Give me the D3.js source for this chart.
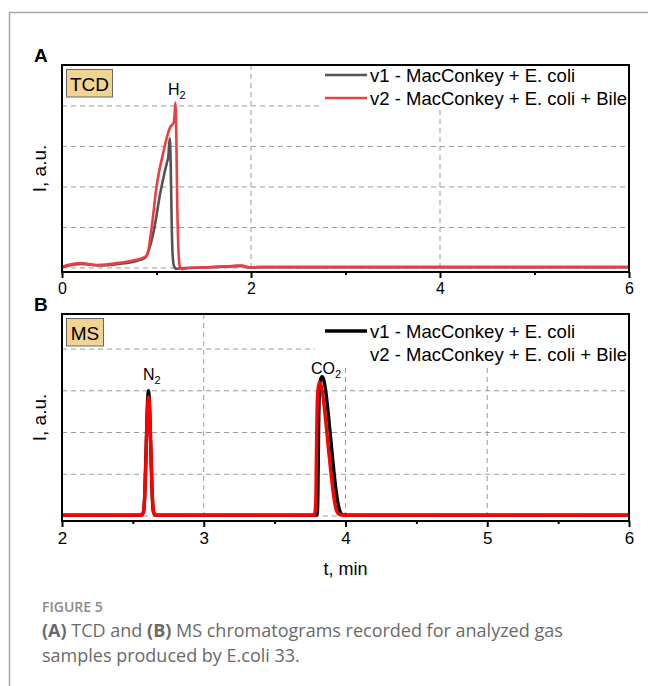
<!DOCTYPE html>
<html>
<head>
<meta charset="utf-8">
<script src="https://cdn.jsdelivr.net/npm/d3@7"></script>
<style>
  body { margin: 0; background: #fff; }
  svg { display: block; }
</style>
</head>
<body>
<div id="chart"></div>
<script>
// ---- data, time in min, intensity in a.u. ----
var tcdV1 = [[0,0.02],[0.2,0.1],[0.4,0.06],[0.6,0.1],[0.8,0.18],[0.88,0.25],[0.92,0.45],[0.97,0.9],
  [1.04,1.85],[1.08,2.3],[1.11,2.6],[1.125,2.75],[1.14,3.2],[1.15,2.6],[1.16,1.2],[1.17,0.35],
  [1.185,0.05],[1.21,-0.02],[1.3,0.0],[1.6,0.02],[1.8,0.04],[1.9,0.05],[2.0,0.01],[2.1,0.02],[6,0.02]];
var tcdV2 = [[0,0.03],[0.19,0.12],[0.37,0.07],[0.61,0.13],[0.86,0.25],[0.9,0.32],[0.95,1.02],[1.0,2.0],
  [1.07,2.83],[1.14,3.45],[1.17,3.55],[1.185,3.6],[1.2,4.08],[1.21,3.2],[1.22,1.5],[1.245,0.05],
  [1.27,-0.03],[1.35,0.0],[1.6,0.02],[1.8,0.05],[1.9,0.06],[1.97,0.01],[2.05,0.02],[6,0.02]];
var msV1 = [[2,0.02],[2.56,0.02],[2.575,0.1],[2.585,0.6],[2.595,1.8],[2.603,2.7],[2.61,3.0],[2.617,2.7],
  [2.625,1.8],[2.635,0.6],[2.645,0.1],[2.66,0.02],[3.8,0.02],[3.805,0.5],[3.81,2.0],[3.815,2.9],
  [3.825,3.28],[3.835,3.34],[3.845,3.28],[3.86,3.0],[3.88,2.4],[3.9,1.7],[3.92,1.0],[3.94,0.45],
  [3.96,0.12],[3.98,0.03],[4.02,0.02],[6,0.02]];
var msV2 = [[2,0.02],[2.56,0.02],[2.575,0.1],[2.585,0.6],[2.595,1.7],[2.603,2.55],[2.611,2.85],[2.618,2.55],
  [2.626,1.7],[2.636,0.6],[2.646,0.1],[2.66,0.02],[3.78,0.02],[3.79,0.3],[3.795,1.5],[3.8,2.6],
  [3.805,3.0],[3.815,3.2],[3.825,3.16],[3.84,2.9],[3.86,2.3],[3.88,1.6],[3.9,0.95],[3.92,0.4],
  [3.94,0.1],[3.96,0.03],[4.0,0.02],[6,0.02]];

var legendNames = ["v1 - MacConkey + E. coli", "v2 - MacConkey + E. coli + Bile"];
var tcdTicks = [0, 2, 4, 6];
var tcdMinor = [1, 3, 5];
var msTicks = [2, 3, 4, 5, 6];
var msMinor = [2.5, 3.5, 4.5, 5.5];
var gridLevels = [0, 1, 2, 3, 4];

var W = 648, H = 686;
var svg = d3.select("#chart").append("svg").attr("width", W).attr("height", H);
var axisFont = "'Liberation Sans', Arial, sans-serif";

// outer figure frame
svg.append("path").attr("d", "M648,12.5H9.5V686").attr("fill", "none")
  .attr("stroke", "#a6a6a6").attr("stroke-width", 1.5);

function drawPanel(cfg){
  var x = d3.scaleLinear().domain(cfg.xDomain).range([62, 629]);
  var y = d3.scaleLinear().domain(cfg.yDomain).range([cfg.bottom, cfg.top]);
  var g = svg.append("g");

  // grid
  g.selectAll(".hgrid").data(gridLevels).enter().append("line")
    .attr("x1", 62).attr("x2", 629)
    .attr("y1", function(d){ return y(d); }).attr("y2", function(d){ return y(d); })
    .attr("stroke", "#9a9a9a").attr("stroke-width", 1).attr("stroke-dasharray", "5,4");
  g.selectAll(".vgrid").data(cfg.vGrid).enter().append("line")
    .attr("x1", function(d){ return x(d); }).attr("x2", function(d){ return x(d); })
    .attr("y1", cfg.top).attr("y2", cfg.bottom)
    .attr("stroke", "#9a9a9a").attr("stroke-width", 1).attr("stroke-dasharray", "5,4");

  // legend background hides grid behind it
  g.append("rect").attr("x", cfg.legBg[0]).attr("y", cfg.legBg[1])
    .attr("width", 628 - cfg.legBg[0]).attr("height", cfg.legBg[2] - cfg.legBg[1]).attr("fill", "#fff");

  var line = d3.line().x(function(d){ return x(d[0]); }).y(function(d){ return y(d[1]); })
    .curve(d3.curveMonotoneX);
  cfg.series.forEach(function(s){
    g.append("path").datum(s.data).attr("d", line).attr("fill", "none")
      .attr("stroke", s.color).attr("stroke-width", cfg.lineWidth)
      .attr("stroke-linejoin", "round");
  });

  // frame
  g.append("rect").attr("x", 62).attr("y", cfg.top).attr("width", 567).attr("height", cfg.bottom - cfg.top)
    .attr("fill", "none").attr("stroke", "#000").attr("stroke-width", 2);

  // x axis
  var ax = g.append("g").attr("transform", "translate(0," + cfg.bottom + ")")
    .call(d3.axisBottom(x).tickValues(cfg.ticks).tickSize(6).tickPadding(5).tickFormat(d3.format("d")));
  ax.select(".domain").remove();
  ax.selectAll("line").attr("stroke-width", 2);
  ax.selectAll("text").attr("font-family", axisFont).attr("font-size", cfg.tickFont).attr("fill", "#000");
  var mx = g.append("g").attr("transform", "translate(0," + cfg.bottom + ")")
    .call(d3.axisBottom(x).tickValues(cfg.minor).tickSize(3).tickFormat(""));
  mx.select(".domain").remove();
  mx.selectAll("line").attr("stroke-width", 2);

  // panel letter
  svg.append("text").attr("x", 34).attr("y", cfg.top - 3).text(cfg.letter)
    .attr("font-family", axisFont).attr("font-weight", "bold").attr("font-size", 19);

  // y label
  svg.append("text").attr("transform", "translate(46," + ((cfg.top + cfg.bottom) / 2) + ") rotate(-90)")
    .attr("text-anchor", "middle").attr("font-family", axisFont).attr("font-size", 19).text("I, a.u.");

  // detector box
  g.append("rect").attr("x", 66.5).attr("y", cfg.top + 4.5).attr("width", cfg.boxW).attr("height", 27.5)
    .attr("fill", "#f2d492").attr("stroke", "#666").attr("stroke-width", 1);
  g.append("text").attr("x", 66.5 + cfg.boxW / 2).attr("y", cfg.top + 25.5).attr("text-anchor", "middle")
    .attr("font-family", axisFont).attr("font-size", 19).text(cfg.detector);

  // peak labels
  cfg.peaks.forEach(function(p){
    var t = g.append("text").attr("x", p.x).attr("y", p.y)
      .attr("font-family", axisFont).attr("font-size", 16);
    t.append("tspan").text(p.name);
    t.append("tspan").attr("dy", 4).attr("font-size", 11).text(p.sub);
  });

  // legend
  cfg.legend.forEach(function(l, i){
    var ly = cfg.legY + i * 23;
    if (l.color){
      g.append("line").attr("x1", 325).attr("x2", 367).attr("y1", ly).attr("y2", ly)
        .attr("stroke", l.color).attr("stroke-width", cfg.lineWidth);
    }
    g.append("text").attr("x", 370).attr("y", ly + 6.5).attr("font-family", axisFont)
      .attr("font-size", 18.5).text(l.name);
  });
}

drawPanel({
  letter: "A", detector: "TCD", boxW: 46,
  xDomain: [0, 6], yDomain: [-0.1, 5.01], top: 65, bottom: 272,
  ticks: tcdTicks, minor: tcdMinor, vGrid: [2, 4], tickFont: 16, lineWidth: 2.6,
  legBg: [323, 66, 110], legY: 75,
  series: [{data: tcdV1, color: "#545454"}, {data: tcdV2, color: "#ef3d42"}],
  legend: [{name: legendNames[0], color: "#545454"}, {name: legendNames[1], color: "#ef3d42"}],
  peaks: [{name: "H", sub: "2", x: 168, y: 95}]
});

drawPanel({
  letter: "B", detector: "MS", boxW: 37,
  xDomain: [2, 6], yDomain: [-0.12, 4.84], top: 314, bottom: 521,
  ticks: msTicks, minor: msMinor, vGrid: [3, 4, 5], tickFont: 17, lineWidth: 3.4,
  legBg: [315, 315, 366], legY: 331,
  series: [{data: msV1, color: "#000"}, {data: msV2, color: "#ff0000"}],
  legend: [{name: legendNames[0], color: "#000"}, {name: legendNames[1], color: null}],
  peaks: [{name: "N", sub: "2", x: 143, y: 380}, {name: "CO", sub: "2", x: 311, y: 374}]
});

// x axis title
svg.append("text").attr("x", 345.5).attr("y", 575).attr("text-anchor", "middle")
  .attr("font-family", axisFont).attr("font-size", 18).text("t, min");

// caption
var capFont = "'Open Sans', 'Noto Sans', sans-serif";
svg.append("text").attr("x", 42).attr("y", 612).attr("font-family", capFont).attr("font-size", 14)
  .attr("font-weight", 600).attr("fill", "#8a8a8a").text("FIGURE 5");
var cap1 = svg.append("text").attr("x", 42).attr("y", 637).attr("font-family", capFont)
  .attr("font-size", 18).attr("fill", "#6a6a6a");
cap1.append("tspan").attr("font-weight", "bold").text("(A)");
cap1.append("tspan").text(" TCD and ");
cap1.append("tspan").attr("font-weight", "bold").text("(B)");
cap1.append("tspan").text(" MS chromatograms recorded for analyzed gas");
svg.append("text").attr("x", 42).attr("y", 662).attr("font-family", capFont)
  .attr("font-size", 18).attr("fill", "#6a6a6a").text("samples produced by E.coli 33.");
</script>
</body>
</html>
